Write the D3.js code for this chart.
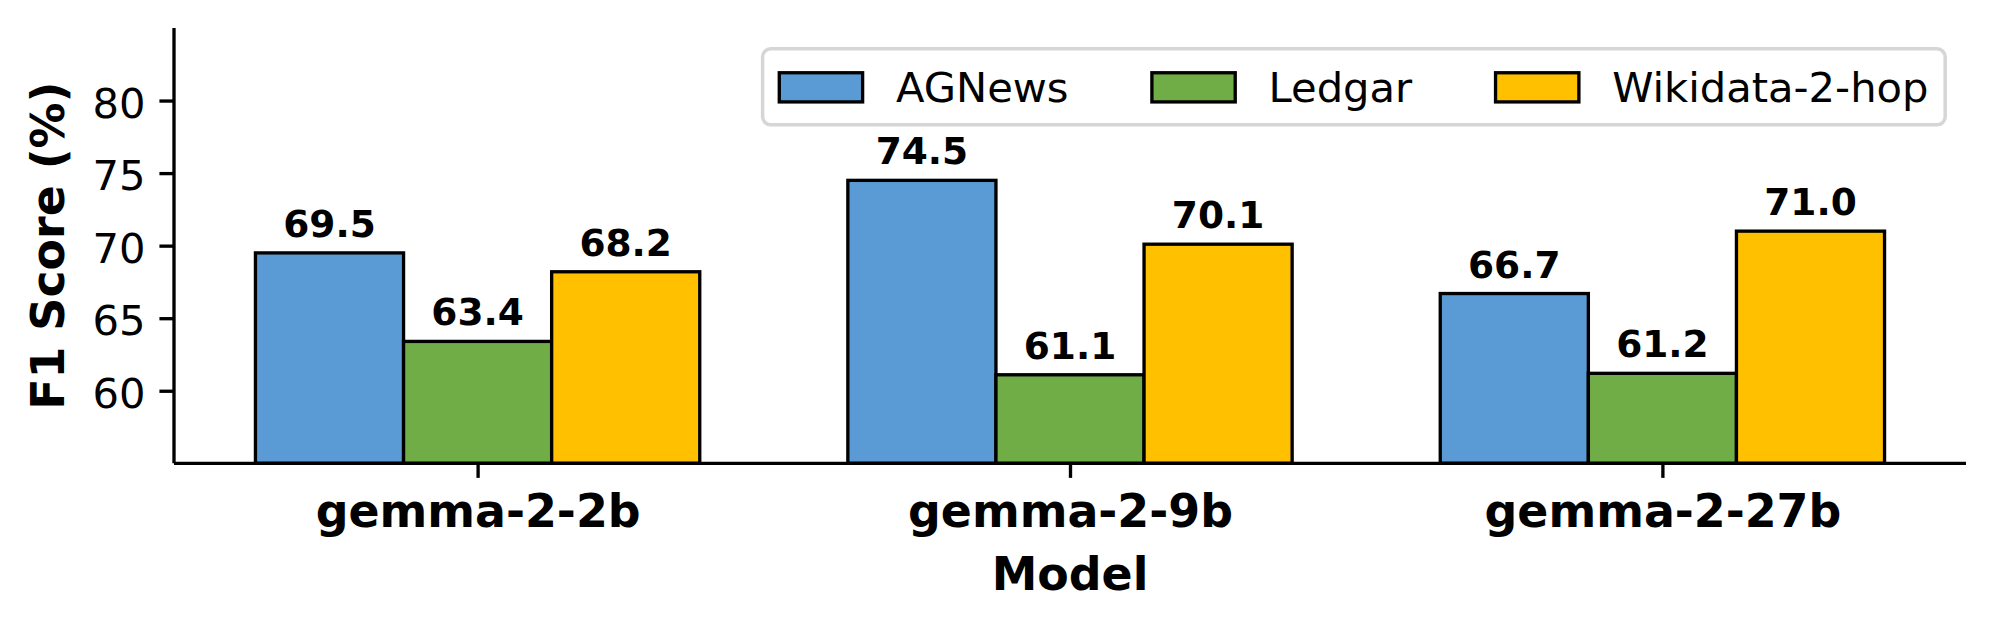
<!DOCTYPE html>
<html>
<head>
<meta charset="utf-8">
<script src="https://cdn.jsdelivr.net/npm/d3@7"></script>
<style>
  html, body { margin: 0; padding: 0; background: #ffffff; }
  svg { display: block; }
  text { font-family: "DejaVu Sans", sans-serif; fill: #000; }
</style>
</head>
<body>
<svg id="chart" width="1995" height="629"></svg>
<script>
// ---- data ----
const models = ["gemma-2-2b", "gemma-2-9b", "gemma-2-27b"];
const seriesNames = ["AGNews", "Ledgar", "Wikidata-2-hop"];
const agnews = [69.5, 74.5, 66.7];
const ledgar = [63.4, 61.1, 61.2];
const wikidata = [68.2, 70.1, 71.0];
const yTicks = [60, 65, 70, 75, 80];
const yDomain = [55, 85];
const colors = ["#5B9BD5", "#70AD47", "#FFC000"];
const xLabel = "Model";
const yLabel = "F1 Score (%)";

const series = [agnews, ledgar, wikidata];

// ---- layout ----
const W = 1995, H = 629;
const axLeft = 174, axRight = 1966, axTop = 28, axBottom = 463.3;
const pt = 300 / 72;        // px per point
const lw = 0.8 * pt;        // line width
const barW = 0.25;

const svg = d3.select("#chart");

const x = d3.scaleLinear().domain([-0.5125, 2.5125]).range([axLeft, axRight]);
const y = d3.scaleLinear().domain(yDomain).range([axBottom, axTop]);

// ---- bars ----
const barData = [];
series.forEach((vals, j) => {
  vals.forEach((v, i) => {
    barData.push({ i, j, v, cx: i + (j - 1) * barW });
  });
});

const g = svg.append("g");
g.selectAll("rect.bar").data(barData).enter().append("rect")
  .attr("class", "bar")
  .attr("x", d => x(d.cx - barW / 2))
  .attr("width", d => x(d.cx + barW / 2) - x(d.cx - barW / 2))
  .attr("y", d => y(d.v))
  .attr("height", d => y(yDomain[0]) - y(d.v))
  .attr("fill", d => colors[d.j])
  .attr("stroke", "#000")
  .attr("stroke-width", lw);

// value labels
g.selectAll("text.val").data(barData).enter().append("text")
  .attr("class", "val")
  .attr("x", d => x(d.cx))
  .attr("y", d => y(d.v) - 16)
  .attr("text-anchor", "middle")
  .style("font-weight", "bold")
  .style("font-size", (9 * pt) + "px")
  .text(d => d3.format(".1f")(d.v));

// ---- axes ----
const xAxis = d3.axisBottom(x)
  .tickValues(models.map((m, i) => i))
  .tickFormat(i => models[i])
  .tickSize(3.5 * pt)
  .tickSizeOuter(0)
  .tickPadding(16.6);
const gx = svg.append("g").attr("transform", `translate(0,${axBottom})`).call(xAxis);
gx.select(".domain").attr("stroke", "#000").attr("stroke-width", lw)
  .attr("d", `M${axLeft},0H${axRight}`);
gx.selectAll(".tick line").attr("stroke", "#000").attr("stroke-width", lw);
gx.selectAll(".tick text")
  .style("font-family", "'DejaVu Sans', sans-serif")
  .style("font-size", (11 * pt) + "px")
  .style("font-weight", "bold")
  .attr("fill", "#000");

const yAxis = d3.axisLeft(y)
  .tickValues(yTicks)
  .tickFormat(d3.format("d"))
  .tickSize(3.5 * pt)
  .tickSizeOuter(0)
  .tickPadding(14);
const gy = svg.append("g").attr("transform", `translate(${axLeft},0)`).call(yAxis);
gy.select(".domain").attr("stroke", "#000").attr("stroke-width", lw)
  .attr("d", `M0,${axTop}V${axBottom}`);
gy.selectAll(".tick line").attr("stroke", "#000").attr("stroke-width", lw);
gy.selectAll(".tick text")
  .style("font-family", "'DejaVu Sans', sans-serif")
  .style("font-size", (10 * pt) + "px")
  .attr("dy", "0.4em")
  .attr("fill", "#000");

// axis labels
svg.append("text")
  .attr("x", (axLeft + axRight) / 2)
  .attr("y", 590)
  .attr("text-anchor", "middle")
  .style("font-weight", "bold")
  .style("font-size", (11 * pt) + "px")
  .text(xLabel);

svg.append("text")
  .attr("transform", `translate(64,${(axTop + axBottom) / 2}) rotate(-90)`)
  .attr("text-anchor", "middle")
  .style("font-weight", "bold")
  .style("font-size", (11 * pt) + "px")
  .text(yLabel);

// ---- legend (upper right) ----
const fs = 10 * pt;
const handleLen = 2.0 * fs, handleH = 0.7 * fs, textPad = 0.8 * fs;
const colSpace = 2.0 * fs, borderPad = 0.4 * fs, axPad = 0.5 * fs;

const leg = svg.append("g");
const box = leg.append("rect");
const items = leg.selectAll("g.item").data(seriesNames).enter().append("g").attr("class", "item");
items.append("rect")
  .attr("fill", (d, k) => colors[k])
  .attr("stroke", "#000")
  .attr("stroke-width", lw)
  .attr("width", handleLen)
  .attr("height", handleH);
items.append("text")
  .style("font-size", fs + "px")
  .text(d => d);

// measure
const widths = [];
items.select("text").each(function () { widths.push(this.getComputedTextLength()); });
let total = borderPad * 2;
widths.forEach((w, k) => { total += handleLen + textPad + w + (k > 0 ? colSpace : 0); });
const boxRight = axRight - axPad;
const boxLeft = boxRight - total;
const boxTop = axTop + axPad;
const boxH = 76;
const rowMid = boxTop + boxH / 2;

box.attr("x", boxLeft).attr("y", boxTop)
  .attr("width", total).attr("height", boxH)
  .attr("rx", 8).attr("ry", 8)
  .attr("fill", "rgba(255,255,255,0.8)")
  .attr("stroke", "#d6d6d6")
  .attr("stroke-width", 3.5);

let cursor = boxLeft + borderPad;
items.each(function (d, k) {
  const it = d3.select(this);
  if (k > 0) cursor += colSpace;
  it.select("rect").attr("x", cursor).attr("y", rowMid - handleH / 2 + 0.5);
  cursor += handleLen + textPad;
  it.select("text").attr("x", cursor).attr("y", rowMid + 0.729 * fs / 2 - 0.5);
  cursor += widths[k];
});
</script>
</body>
</html>
